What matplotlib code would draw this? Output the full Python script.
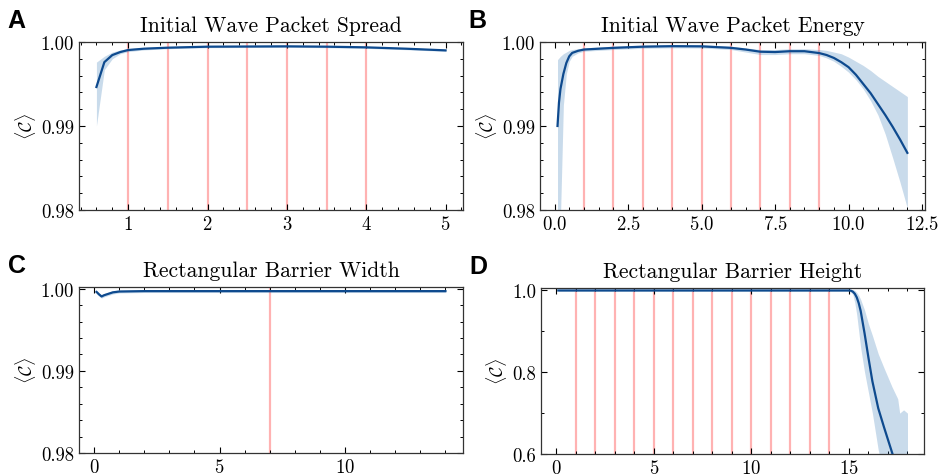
import numpy as np
import matplotlib
matplotlib.use("Agg")
import matplotlib.pyplot as plt
from matplotlib.ticker import MultipleLocator, FormatStrFormatter

plt.rcParams['font.family'] = 'serif'
plt.rcParams['font.serif'] = ['cmr10']
plt.rcParams['mathtext.fontset'] = 'cm'
plt.rcParams['axes.formatter.use_mathtext'] = True

# A: initial wave packet spread
spread_x = [0.6, 0.7, 0.8, 0.9, 1.0, 1.2, 1.5, 2.0, 2.5, 3.0, 3.5, 4.0, 4.5, 5.0]
spread_mean = [0.99464, 0.99760, 0.99844, 0.99880, 0.99904, 0.99920, 0.99932, 0.99944,
               0.99946, 0.99948, 0.99944, 0.99936, 0.99920, 0.99900]
spread_lo = [0.99000, 0.99670, 0.99800, 0.99860, 0.99885, 0.99905, 0.99920, 0.99932,
             0.99934, 0.99936, 0.99932, 0.99924, 0.99908, 0.99888]
spread_hi = [0.99760, 0.99830, 0.99880, 0.99905, 0.99922, 0.99935, 0.99944, 0.99956,
             0.99958, 0.99960, 0.99956, 0.99948, 0.99932, 0.99912]
spread_marks = [1, 1.5, 2, 2.5, 3, 3.5, 4]

# B: initial wave packet energy
energy_x = [0.1, 0.15, 0.2, 0.3, 0.4, 0.5, 0.6, 0.8, 1.0, 2.0, 3.0, 4.0, 5.0, 6.0, 6.5,
            7.0, 7.5, 8.0, 8.5, 9.0, 9.25, 9.5, 9.75, 10.0, 10.25, 10.5, 10.75, 11.0,
            11.25, 11.5, 11.75, 12.0]
energy_mean = [0.9900, 0.9928, 0.9944, 0.9962, 0.9975, 0.9983, 0.9987, 0.99895, 0.9991,
               0.9993, 0.99944, 0.9995, 0.99948, 0.9993, 0.9991, 0.99884, 0.9988, 0.9989,
               0.9989, 0.99868, 0.99845, 0.9981, 0.9976, 0.9970, 0.9961, 0.9950, 0.9939,
               0.9926, 0.9913, 0.9899, 0.9884, 0.9868]
energy_lo = [0.9750, 0.9760, 0.9790, 0.9925, 0.9962, 0.9977, 0.9983, 0.9987, 0.9989,
             0.9991, 0.99925, 0.9993, 0.99928, 0.9991, 0.9988, 0.9985, 0.9985, 0.9986,
             0.9986, 0.9984, 0.9981, 0.9977, 0.9971, 0.9964, 0.9955, 0.9944, 0.9930,
             0.9913, 0.9890, 0.9862, 0.9833, 0.9802]
energy_hi = [0.9979, 0.9981, 0.9983, 0.9986, 0.9988, 0.9990, 0.9991, 0.9992, 0.9993,
             0.9995, 0.99962, 0.9997, 0.99968, 0.9995, 0.9993, 0.9991, 0.9991, 0.9992,
             0.9992, 0.9991, 0.9990, 0.9988, 0.9986, 0.9982, 0.9977, 0.9972, 0.9966,
             0.9959, 0.9953, 0.9947, 0.9941, 0.9935]
energy_marks = [1, 2, 3, 4, 5, 6, 7, 8, 9]

# C: rectangular barrier width
width_x = [0.1, 0.2, 0.3, 0.4, 0.5, 0.75, 1.0, 2.0, 4.0, 6.0, 8.0, 10.0, 12.0, 14.0]
width_mean = [0.9996, 0.9993, 0.99905, 0.9992, 0.9993, 0.99955, 0.99965, 0.9997, 0.9997,
              0.9997, 0.9997, 0.9997, 0.9997, 0.9997]
width_lo = [0.9994, 0.9991, 0.99885, 0.9990, 0.9991, 0.99935, 0.99948, 0.99953, 0.99953,
            0.99953, 0.99953, 0.99953, 0.99953, 0.99953]
width_hi = [0.9998, 0.9995, 0.99925, 0.9994, 0.9995, 0.99975, 0.99982, 0.99987, 0.99987,
            0.99987, 0.99987, 0.99987, 0.99987, 0.99987]
width_marks = [7]

# D: rectangular barrier height
height_x = [0.1, 5.0, 10.0, 15.0, 15.1, 15.2, 15.3, 15.4, 15.5, 15.6, 15.8, 16.0, 16.2,
            16.5, 16.8, 17.2, 17.5, 17.6, 17.8, 18.0]
height_mean = [1.0, 1.0, 1.0, 1.0, 0.9995, 0.997, 0.992, 0.983, 0.969, 0.950, 0.895, 0.835,
               0.778, 0.712, 0.665, 0.605, 0.560, 0.545, 0.520, 0.490]
height_lo = [0.998, 0.998, 0.998, 0.998, 0.996, 0.990, 0.970, 0.940, 0.900, 0.860, 0.800,
             0.750, 0.700, 0.610, 0.550, 0.480, 0.420, 0.400, 0.370, 0.350]
height_hi = [1.002, 1.002, 1.002, 1.002, 1.002, 1.002, 1.000, 0.995, 0.988, 0.978, 0.952,
             0.918, 0.890, 0.845, 0.810, 0.765, 0.735, 0.700, 0.708, 0.700]
height_marks = list(range(1, 15))

line_color = '#0E4A8E'
fill_color = '#0C5DA5'

fig = plt.figure(figsize=(9.39, 4.77), dpi=100)

panels = [
    # letter, title, x, mean, lo, hi, marks, rect, xlim, ylim, xmajor, xminor, ymajor, yminor, yfmt
    ('A', 'Initial Wave Packet Spread', spread_x, spread_mean, spread_lo, spread_hi, spread_marks,
     [0.0841, 0.5577, 0.409, 0.3522], (0.38, 5.22), (0.98, 1.0), 1, 0.2, 0.01, 0.002, '%.2f'),
    ('B', 'Initial Wave Packet Energy', energy_x, energy_mean, energy_lo, energy_hi, energy_marks,
     [0.5751, 0.5577, 0.410, 0.3522], (-0.495, 12.6), (0.98, 1.0), 2.5, 0.5, 0.01, 0.002, '%.2f'),
    ('C', 'Rectangular Barrier Width', width_x, width_mean, width_lo, width_hi, width_marks,
     [0.0841, 0.0482, 0.409, 0.348], (-0.6, 14.7), (0.98, 1.0002), 5, 1, 0.01, 0.002, '%.2f'),
    ('D', 'Rectangular Barrier Height', height_x, height_mean, height_lo, height_hi, height_marks,
     [0.5761, 0.0461, 0.408, 0.348], (-0.79, 18.85), (0.6, 1.006), 5, 1, 0.2, 0.1, '%.1f'),
]

for (letter, title, x, mean, lo, hi, marks, rect, xlim, ylim,
     xmaj, xmin, ymaj, ymin, yfmt) in panels:
    ax = fig.add_axes(rect)
    for m in marks:
        ax.axvline(m, color='red', alpha=0.3, lw=1.6, zorder=1)
    ax.fill_between(x, lo, hi, color=fill_color, alpha=0.22, lw=0, zorder=2)
    ax.plot(x, mean, color=line_color, lw=1.6, zorder=3)
    ax.set_xlim(*xlim)
    ax.set_ylim(*ylim)
    ax.xaxis.set_major_locator(MultipleLocator(xmaj))
    ax.xaxis.set_minor_locator(MultipleLocator(xmin))
    ax.yaxis.set_major_locator(MultipleLocator(ymaj))
    ax.yaxis.set_minor_locator(MultipleLocator(ymin))
    ax.yaxis.set_major_formatter(FormatStrFormatter(yfmt))
    ax.tick_params(which='both', direction='in', top=True, right=True, labelsize=13.5)
    ax.tick_params(which='major', length=4, width=0.8)
    ax.tick_params(which='minor', length=2, width=0.7)
    for s in ax.spines.values():
        s.set_linewidth(0.9)
        s.set_color('#333333')
    ax.set_ylabel(r'$\langle \mathcal{C} \rangle$', fontsize=13, labelpad=2)
    ax.set_title(title, fontsize=15.5, pad=8)
    fig.text(rect[0] - 0.076, rect[1] + rect[3] + 0.046, letter, fontsize=18,
             fontweight='bold', family='Liberation Sans', va='center', ha='left')

fig.savefig('out.png', dpi=100)
